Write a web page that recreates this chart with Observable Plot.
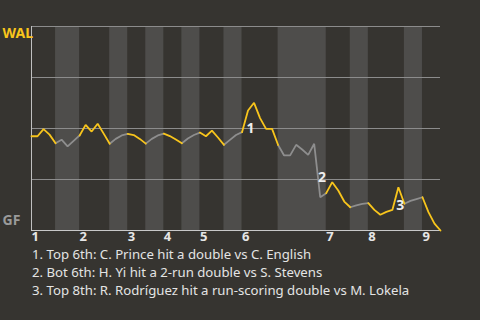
<!DOCTYPE html>
<html>
<head>
<meta charset="utf-8">
<script src="https://cdn.jsdelivr.net/npm/d3@7"></script>
<script src="https://cdn.jsdelivr.net/npm/@observablehq/plot@0.6"></script>
<style>
  html, body { margin: 0; padding: 0; background: #363430; width: 480px; height: 320px; overflow: hidden; }
  #chart svg { display: block; overflow: visible; }
  #notes { margin-top: -6px; padding-left: 32px; font-family: "Noto Sans", sans-serif; font-size: 13.2px; line-height: 18px; color: #e4e4e4; white-space: nowrap; position: relative; }
</style>
</head>
<body>
<div id="chart"></div>
<div id="notes"></div>
<script>
// WAL win probability after each play (play index = array position)
const winProb = [
  0.462, 0.462, 0.497, 0.470, 0.428,
  0.445, 0.412, 0.439, 0.466,
  0.518, 0.485, 0.523, 0.475, 0.425,
  0.449, 0.466, 0.474,
  0.468, 0.449, 0.426,
  0.449, 0.466, 0.475,
  0.463, 0.446, 0.428,
  0.451, 0.468, 0.480,
  0.462, 0.490, 0.456, 0.420,
  0.444, 0.468, 0.482,
  0.588, 0.626, 0.551, 0.498, 0.498, 0.419,
  0.368, 0.368, 0.420, 0.397, 0.371, 0.425, 0.163, 0.183,
  0.237, 0.196, 0.142, 0.114,
  0.123, 0.130, 0.134,
  0.101, 0.077, 0.091, 0.101, 0.212, 0.131,
  0.145, 0.154, 0.163,
  0.090, 0.034, 0.000
];
// play index at which each half-inning starts (last = end of game)
const halfStarts = [0, 4, 8, 13, 16, 19, 22, 25, 28, 32, 35, 41, 49, 53, 56, 62, 65, 68];
const inningLabels = ["1", "2", "3", "4", "5", "6", "7", "8", "9"];
const teamTop = "WAL";
const teamBottom = "GF";
const noteNums = ["1", "2", "3"];
const notePlay = [36.4, 48.3, 61.3];
const noteProb = [0.50, 0.26, 0.123];
const noteTexts = [
  "1. Top 6th: C. Prince hit a double vs C. English",
  "2. Bot 6th: H. Yi hit a 2-run double vs S. Stevens",
  "3. Top 8th: R. Rodríguez hit a run-scoring double vs M. Lokela"
];

const YELLOW = "#f8c51c", GRAY = "#8e8e8e";

// segments per half inning
const rows = [];
for (let h = 0; h < halfStarts.length - 1; h++) {
  for (let p = halfStarts[h]; p <= halfStarts[h + 1]; p++) {
    rows.push({play: p, wp: winProb[p], seg: h, top: h % 2 === 0});
  }
}
const bands = [];
for (let h = 1; h < halfStarts.length - 1; h += 2) {
  bands.push({x1: halfStarts[h], x2: halfStarts[h + 1]});
}
const innings = inningLabels.map((label, i) => ({label, play: halfStarts[2 * i]}));
const notes = noteNums.map((n, i) => ({n, play: notePlay[i], wp: noteProb[i]}));

const font = "Noto Sans, sans-serif";
const plot = Plot.plot({
  width: 480, height: 251,
  marginLeft: 31, marginRight: 40, marginTop: 26, marginBottom: 21,
  style: {background: "transparent", fontFamily: font, overflow: "visible"},
  x: {domain: [0, 68], axis: null},
  y: {domain: [0, 1], axis: null},
  marks: [
    Plot.rect(bands, {x1: "x1", x2: "x2", fill: "#4e4d4b"}),
    Plot.ruleY([0.25, 0.5, 0.75, 1], {stroke: "#8c8c8c", strokeWidth: 1}),
    Plot.ruleY([0], {stroke: "#c8c8c8", strokeWidth: 1}),
    Plot.ruleX([0], {stroke: "#c0c0c0", strokeWidth: 1}),
    Plot.line(rows.filter(d => !d.top), {x: "play", y: "wp", z: "seg", stroke: GRAY, strokeWidth: 1.8, strokeLinejoin: "miter"}),
    Plot.line(rows.filter(d => d.top), {x: "play", y: "wp", z: "seg", stroke: YELLOW, strokeWidth: 1.8, strokeLinejoin: "miter"}),
    Plot.text(notes, {x: "play", y: "wp", text: "n", fill: "#eeeeee", fontSize: 14, fontWeight: "bold"}),
    Plot.text(innings, {x: "play", text: "label", frameAnchor: "bottom", textAnchor: "start", lineAnchor: "top", dy: 1, fill: "#e6e6e6", fontSize: 13, fontWeight: "bold"}),
    Plot.text([teamTop], {frameAnchor: "top-left", textAnchor: "start", lineAnchor: "middle", dx: -29, dy: 7, fill: YELLOW, fontSize: 14, fontWeight: "bold"}),
    Plot.text([teamBottom], {frameAnchor: "bottom-left", textAnchor: "start", lineAnchor: "middle", dx: -29, dy: -9.5, fill: "#9a9a9a", fontSize: 14, fontWeight: "bold"})
  ]
});
document.getElementById("chart").appendChild(plot);
const notesDiv = document.getElementById("notes");
for (const t of noteTexts) {
  const d = document.createElement("div");
  d.textContent = t;
  notesDiv.appendChild(d);
}
</script>
</body>
</html>
